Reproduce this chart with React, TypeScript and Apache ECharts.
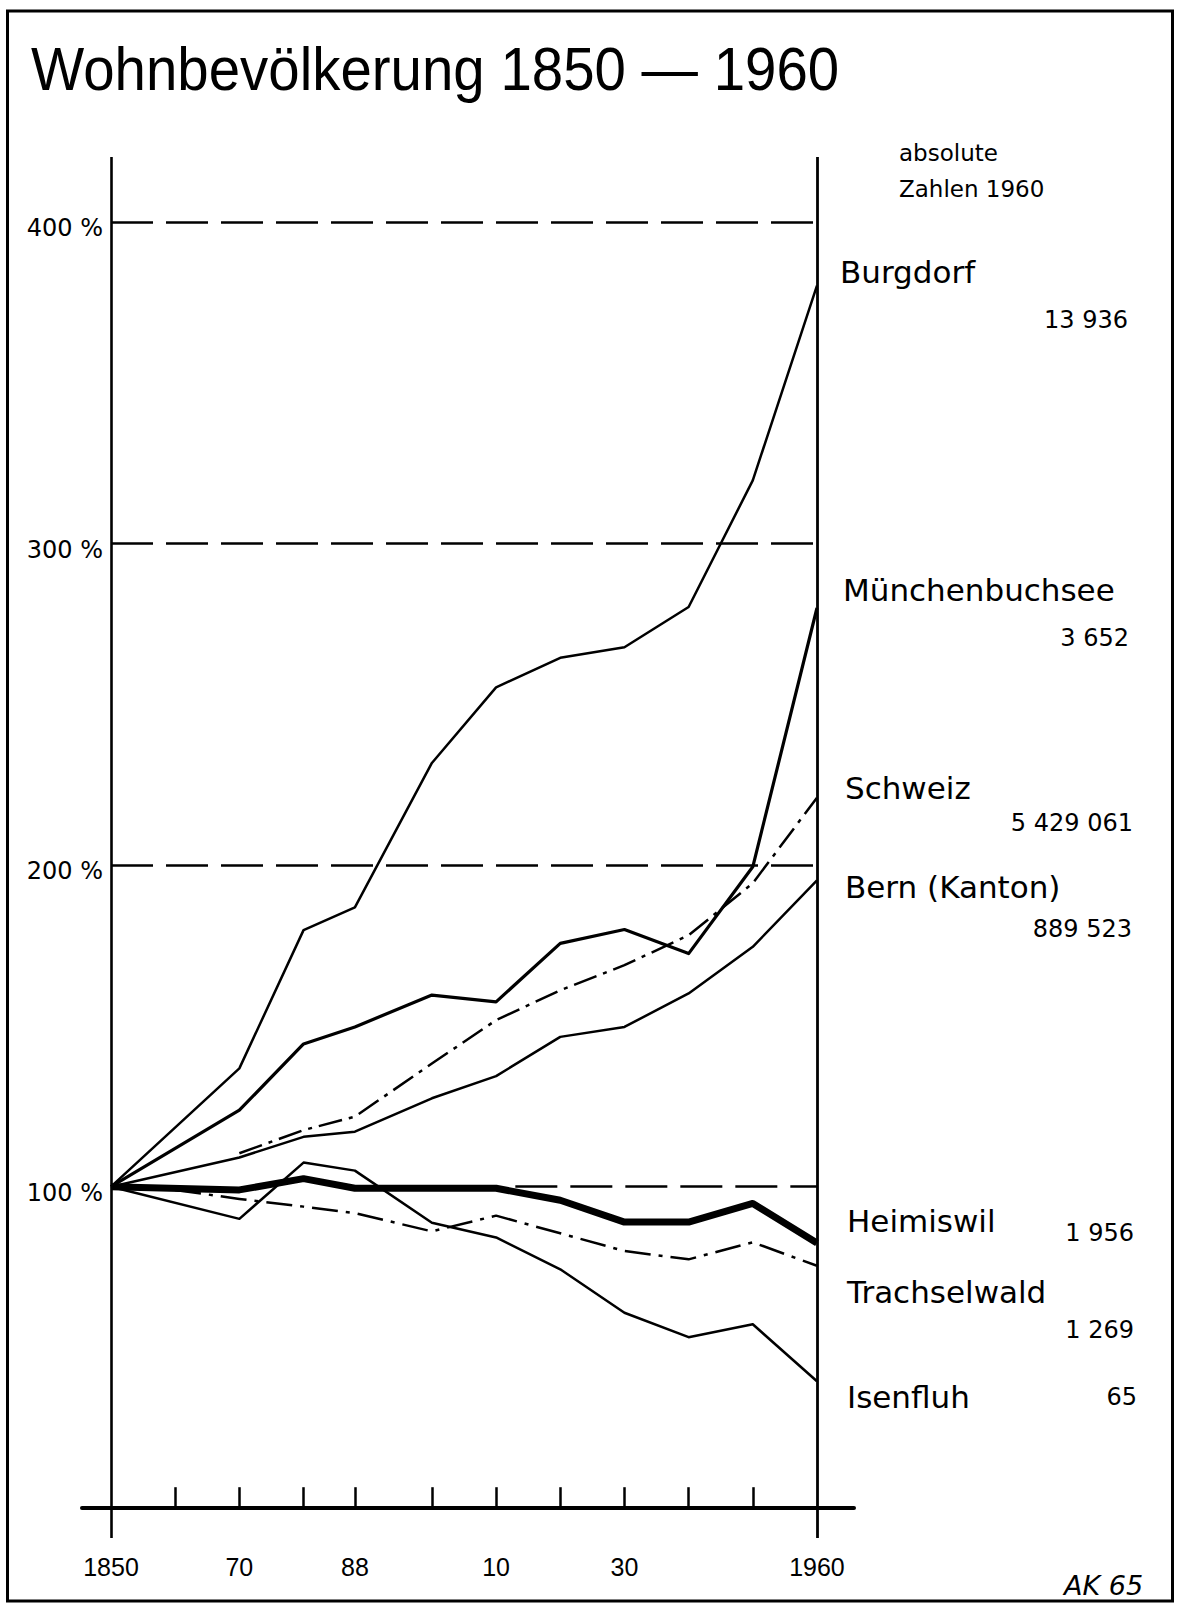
import React, { useEffect, useRef } from 'react';
import * as echarts from 'echarts';

// ---- data ----
const YEARS = [1850, 1860, 1870, 1880, 1888, 1900, 1910, 1920, 1930, 1940, 1950, 1960];

const burgdorf = [100, null, 136.8, 179.8, 186.9, 231.8, 255.3, 264.5, 267.8, 280.3, 319.7, 380.3];
const muenchenbuchsee = [100, null, 123.8, 144.4, 149.7, 159.6, 157.5, 175.7, 180, 172.5, 199.5, 280];
const schweiz = [null, null, 110.4, 117.6, 121.8, 138.3, 151.8, 161.1, 168.9, 178.2, 194.4, 221];
const bern = [100, null, 109.1, 115.5, 117.1, 127.5, 134.4, 146.6, 149.7, 160.1, 174.6, 195.3];
const heimiswil = [100, null, 99, 102.5, 99.5, 99.5, 99.5, 95.8, 89, 89, 94.8, 82.5];
const trachselwald = [null, 99, 96.2, 93.8, 91.8, 86.1, 91, 85.5, 80, 77.4, 82.7, 75.4];
const isenfluh = [100, null, 90, 107.5, 105, 88.8, 84.2, 74.3, 60.8, 53.2, 57.2, 39.5];

const SERIES_NAMES = ['Burgdorf', 'Münchenbuchsee', 'Schweiz', 'Bern (Kanton)', 'Heimiswil', 'Trachselwald', 'Isenfluh'];
const ABSOLUTE_1960 = ['13 936', '3 652', '5 429 061', '889 523', '1 956', '1 269', '65'];

const X_TICK_YEARS = [1860, 1870, 1880, 1888, 1900, 1910, 1920, 1930, 1940, 1950];
const X_LABEL_YEARS = [1850, 1870, 1888, 1910, 1930, 1960];
const X_LABEL_TEXT = ['1850', '70', '88', '10', '30', '1960'];
const Y_LABEL_VALUES = [100, 200, 300, 400];
const GUIDE_FULL = [400, 300, 200];
const GUIDE_PARTIAL = 100;
const GUIDE_PARTIAL_START = 1913;

const TITLE = 'Wohnbevölkerung 1850 — 1960';
const NOTE = ['absolute', 'Zahlen 1960'];
const SIGNATURE = 'AK 65';

// ---- layout / styles ----
const W = 1181;
const H = 1607;
const X_MIN = 1845.48;
const X_MAX = 1965.77;
const Y_MIN = -9.27;
const Y_MAX = 420.28;

const NAME_POS = [
  [840, 272], [843, 590], [845, 788], [845, 887], [847, 1221], [847, 1292], [847, 1397],
];
const NUM_POS = [
  [1128, 320], [1129, 638], [1133, 823], [1132, 929], [1134, 1233], [1134, 1330], [1137, 1397],
];

const SERIES_STYLE = [
  { width: 2.5, type: 'solid' },
  { width: 3.2, type: 'solid' },
  { width: 2.5, type: [24, 7, 4, 7] },
  { width: 2.5, type: 'solid' },
  { width: 7, type: 'solid' },
  { width: 2.5, type: [26, 8, 4, 8] },
  { width: 2.5, type: 'solid' },
];

const SERIES_VALUES = [burgdorf, muenchenbuchsee, schweiz, bern, heimiswil, trachselwald, isenfluh];

const LABEL_FONT = "'DejaVu Sans', 'Liberation Sans', sans-serif";

export default function App() {
  const ref = useRef<HTMLDivElement>(null);

  useEffect(() => {
    if (!ref.current) return;
    const chart = echarts.init(ref.current, null, { renderer: 'svg' });

    const guideStyle = { color: '#000', width: 2.5, type: [42, 13] as any };
    const markData: any[] = [
      { xAxis: 1850, lineStyle: { color: '#000', width: 2.6, type: 'solid' } },
      { xAxis: 1960, lineStyle: { color: '#000', width: 2.8, type: 'solid' } },
      ...GUIDE_FULL.map((v) => [
        { coord: [1850, v], lineStyle: guideStyle },
        { coord: [1960, v] },
      ]),
      [
        { coord: [GUIDE_PARTIAL_START, GUIDE_PARTIAL], lineStyle: guideStyle },
        { coord: [1960, GUIDE_PARTIAL] },
      ],
    ];

    const series: any[] = SERIES_VALUES.map((vals, i) => ({
      name: SERIES_NAMES[i],
      type: 'line',
      data: YEARS.map((y, j) => [y, vals[j]]).filter((p) => p[1] !== null),
      symbol: 'none',
      silent: true,
      z: i === 4 ? 4 : 3,
      lineStyle: { color: '#000', width: SERIES_STYLE[i].width, type: SERIES_STYLE[i].type as any, cap: 'butt', join: 'round' },
    }));
    series[0].markLine = {
      silent: true,
      symbol: ['none', 'none'],
      label: { show: false },
      animation: false,
      data: markData,
    };

    const graphics: any[] = [
      {
        type: 'rect',
        shape: { x: 7.5, y: 11, width: 1165, height: 1590 },
        style: { fill: 'none', stroke: '#000', lineWidth: 3 },
        silent: true,
      },
      {
        type: 'text',
        x: 31,
        y: 69,
        scaleX: 0.925,
        style: {
          text: TITLE,
          fontSize: 61,
          fontFamily: "'Liberation Sans', Arial, sans-serif",
          fill: '#000',
          align: 'left',
          verticalAlign: 'middle',
        },
      },
      {
        type: 'text',
        x: 899,
        y: 153,
        style: { text: NOTE[0], fontSize: 23, fontFamily: LABEL_FONT, fill: '#000', align: 'left', verticalAlign: 'middle' },
      },
      {
        type: 'text',
        x: 899,
        y: 189,
        style: { text: NOTE[1], fontSize: 23, fontFamily: LABEL_FONT, fill: '#000', align: 'left', verticalAlign: 'middle' },
      },
      {
        type: 'text',
        x: 1064,
        y: 1585,
        style: { text: SIGNATURE, fontSize: 27, fontStyle: 'italic', fontFamily: LABEL_FONT, fill: '#000', align: 'left', verticalAlign: 'middle' },
      },
    ];
    SERIES_NAMES.forEach((n, i) => {
      graphics.push({
        type: 'text',
        x: NAME_POS[i][0],
        y: NAME_POS[i][1],
        style: { text: n, fontSize: 31, fontFamily: LABEL_FONT, fill: '#000', align: 'left', verticalAlign: 'middle' },
      });
      graphics.push({
        type: 'text',
        x: NUM_POS[i][0],
        y: NUM_POS[i][1],
        style: { text: ABSOLUTE_1960[i], fontSize: 24, fontFamily: LABEL_FONT, fill: '#000', align: 'right', verticalAlign: 'middle' },
      });
    });

    const option: any = {
      animation: false,
      backgroundColor: '#fff',
      grid: { left: 82, right: W - 854, top: 157, bottom: H - 1538, containLabel: false },
      xAxis: {
        type: 'value',
        min: X_MIN,
        max: X_MAX,
        axisLine: { show: true, onZero: true, lineStyle: { color: '#000', width: 4 } },
        axisTick: {
          show: true,
          inside: true,
          length: 21,
          customValues: X_TICK_YEARS,
          lineStyle: { color: '#000', width: 2.5 },
        },
        axisLabel: {
          show: true,
          customValues: X_LABEL_YEARS,
          formatter: (v: number) => {
            const k = X_LABEL_YEARS.indexOf(Math.round(v));
            return k >= 0 ? X_LABEL_TEXT[k] : '';
          },
          margin: 16,
          fontSize: 25,
          color: '#000',
          fontFamily: "'Liberation Sans', Arial, sans-serif",
        },
        splitLine: { show: false },
      },
      yAxis: {
        type: 'value',
        min: Y_MIN,
        max: Y_MAX,
        offset: -29,
        axisLine: { show: false },
        axisTick: { show: false },
        splitLine: { show: false },
        axisLabel: {
          show: true,
          customValues: Y_LABEL_VALUES,
          formatter: (v: number) => `${Math.round(v)} %`,
          margin: 8,
          verticalAlign: 'top',
          lineHeight: 12,
          fontSize: 24,
          color: '#000',
          fontFamily: LABEL_FONT,
        },
      },
      series,
      graphic: graphics,
    };

    chart.setOption(option);
    return () => chart.dispose();
  }, []);

  return (
    <div
      ref={ref}
      style={{ position: 'absolute', left: 0, top: 0, width: W, height: H, background: '#fff' }}
    />
  );
}
